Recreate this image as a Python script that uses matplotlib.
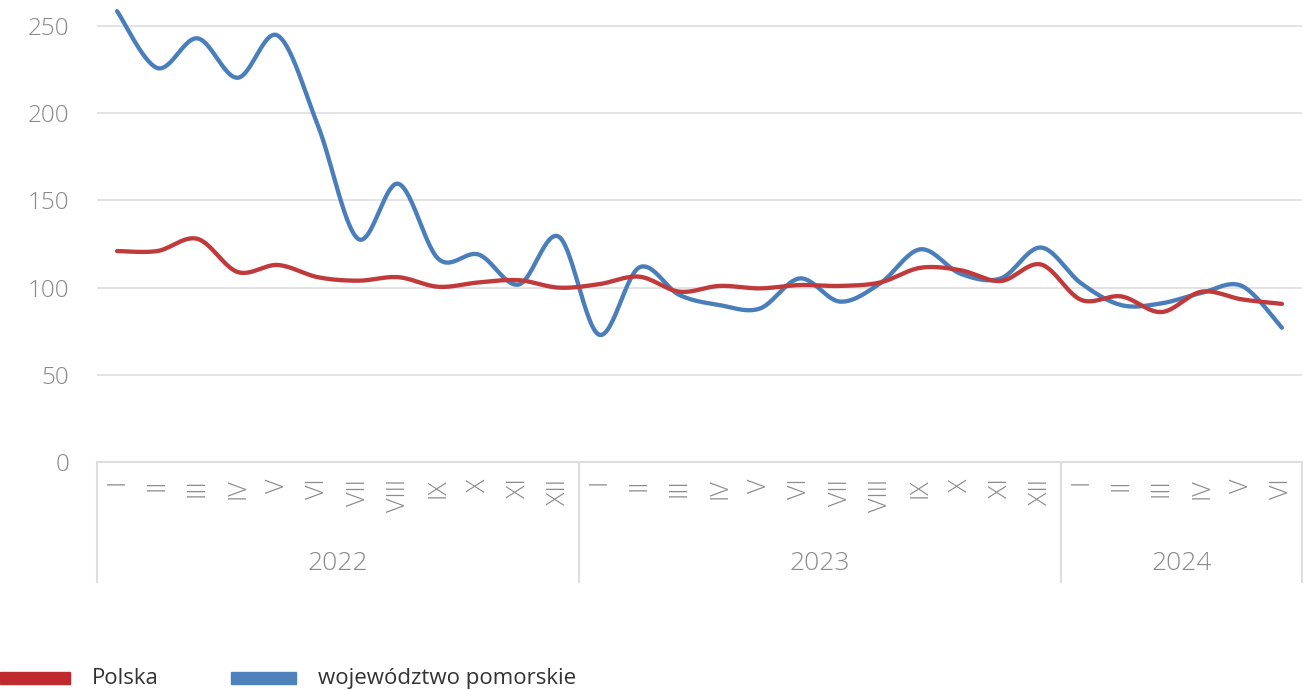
import numpy as np
import matplotlib.pyplot as plt
from matplotlib.transforms import blended_transform_factory
from matplotlib.patches import Rectangle

# miesiące i lata
months = ['I', 'II', 'III', 'IV', 'V', 'VI', 'VII', 'VIII', 'IX', 'X', 'XI', 'XII']
years = ['2022', '2023', '2024']
months_per_year = [12, 12, 6]

# wartości
polska = [121, 121, 128, 109, 113, 106, 104, 106, 100.5, 103, 104.3, 100,
          102, 106.3, 97.7, 101, 99.6, 101.5, 101, 103, 111.4, 110, 103.8, 113.3,
          93, 95, 86, 97.7, 93.3, 90.7]
pomorskie = [258.6, 226, 243, 220.4, 244.6, 193, 128, 159.6, 116.5, 119, 101.8, 129.2,
             73, 111.6, 95.8, 90, 88, 105.3, 92, 102.5, 122, 108, 105.3, 123,
             102.5, 90, 91, 97, 101, 77]

labels = []
for n in months_per_year:
    labels += months[:n]

plt.rcParams['font.family'] = ['Open Sans', 'DejaVu Sans']
gray = '#8a8a8a'
grid_c = '#dedede'


def smooth(y, steps=30):
    # gładka linia jak w Excelu (Catmull-Rom / Bezier)
    y = np.asarray(y, float)
    x = np.arange(len(y), dtype=float)
    pts = np.column_stack([x, y])
    pad = np.vstack([pts[0], pts, pts[-1]])
    out = []
    t = np.linspace(0, 1, steps)[:, None]
    for i in range(len(pts) - 1):
        p0, p1, p2, p3 = pad[i], pad[i + 1], pad[i + 2], pad[i + 3]
        c1 = p1 + (p2 - p0) / 6
        c2 = p2 - (p3 - p1) / 6
        seg = ((1 - t) ** 3) * p1 + 3 * ((1 - t) ** 2) * t * c1 + 3 * (1 - t) * t ** 2 * c2 + t ** 3 * p2
        out.append(seg if i == 0 else seg[1:])
    out = np.vstack(out)
    return out[:, 0], out[:, 1]


fig = plt.figure(figsize=(13.08, 6.9), dpi=100)
W, H = 1308, 690
ax = fig.add_axes([97 / W, (H - 462) / H, (1302 - 97) / W, 462 / H])

xs, ys = smooth(pomorskie)
ax.plot(xs, ys, color='#4a7ebb', lw=3.1, solid_capstyle='round', zorder=3)
xs, ys = smooth(polska)
ax.plot(xs, ys, color='#c03a3c', lw=3.1, solid_capstyle='round', zorder=4)

n = len(labels)
ax.set_xlim(-0.5, n - 0.5)
ax.set_ylim(0, 265)
ax.set_yticks([0, 50, 100, 150, 200, 250])
ax.yaxis.grid(True, color=grid_c, lw=1.2)
ax.set_axisbelow(True)
for s in ['top', 'right', 'left']:
    ax.spines[s].set_visible(False)
ax.spines['bottom'].set_color(grid_c)
ax.spines['bottom'].set_linewidth(1.5)
ax.tick_params(axis='y', length=0, pad=20, labelsize=17.5, labelcolor=gray)
for lab in ax.get_yticklabels():
    lab.set_fontweight('light')
ax.set_xticks(range(n))
ax.set_xticklabels(labels, rotation=90, fontsize=18, color=gray, fontweight='light')
ax.tick_params(axis='x', length=0, pad=12)
for lab in ax.get_xticklabels():
    lab.set_verticalalignment('top')

# separatory lat i etykiety lat
tr = blended_transform_factory(ax.transData, ax.transAxes)
bounds = np.concatenate([[0], np.cumsum(months_per_year)]) - 0.5
for b in bounds:
    ax.plot([b, b], [0, -120 / 462], transform=tr, color=grid_c, lw=1.5, clip_on=False)
for k, yr in enumerate(years):
    ax.text((bounds[k] + bounds[k + 1]) / 2, -101 / 462, yr, transform=tr,
            ha='center', va='center', fontsize=19, color=gray, fontweight='light')

# legenda
fig.patches.append(Rectangle((0, 6 / H), 70 / W, 12 / H, transform=fig.transFigure,
                             color='#be2a2e'))
fig.text(92 / W, 6 / H, 'Polska', fontsize=16, color='#333333', va='baseline')
fig.patches.append(Rectangle((231 / W, 6 / H), 65 / W, 12 / H, transform=fig.transFigure,
                             color='#4f81bd'))
fig.text(318 / W, 6 / H, 'województwo pomorskie', fontsize=16, color='#333333', va='baseline')

fig.savefig('out.png', dpi=100)
